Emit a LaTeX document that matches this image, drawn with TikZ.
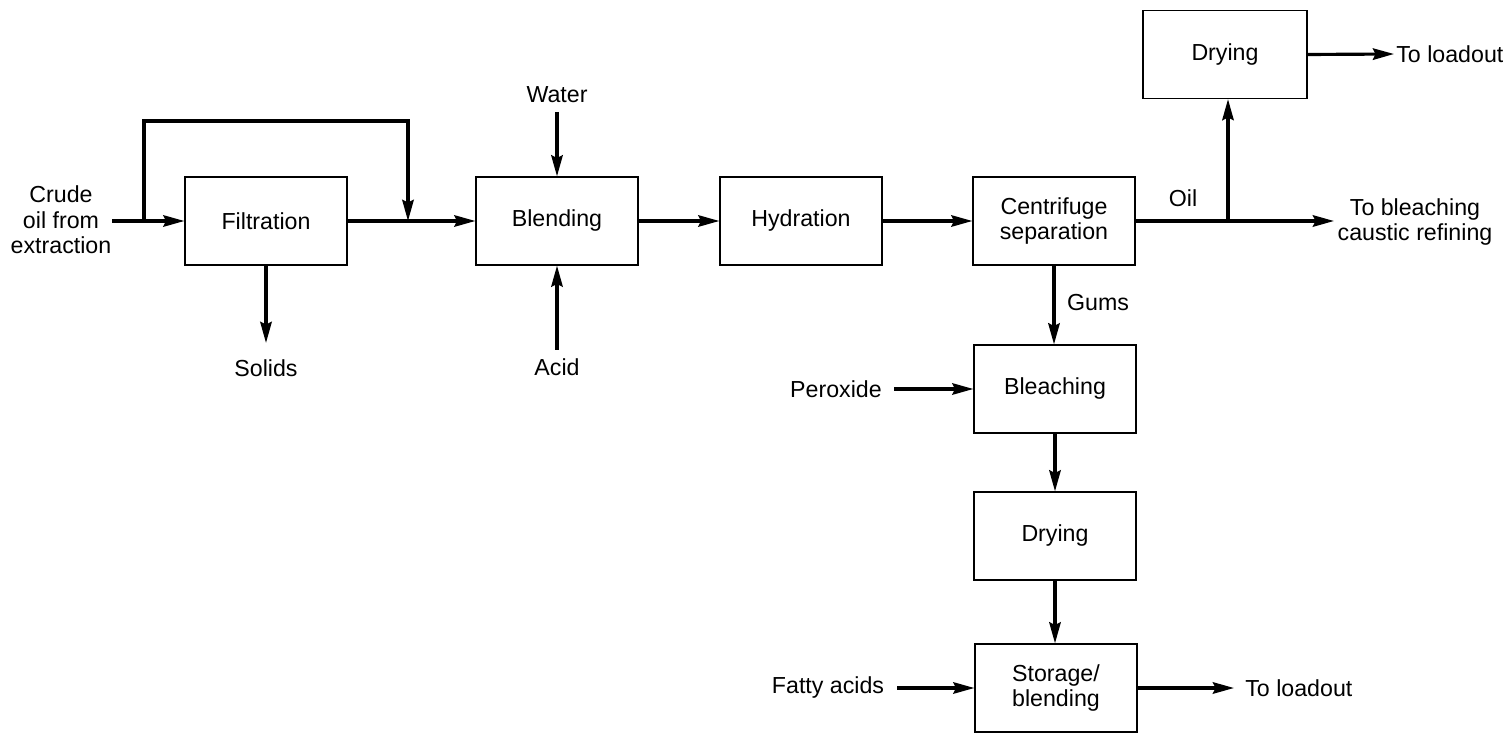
\documentclass[tikz,border=0pt]{standalone}
\usepackage{fontspec}
\setmainfont{Liberation Sans}
\usetikzlibrary{arrows.meta}
\begin{document}
\begin{tikzpicture}[x=0.02cm,y=-0.02cm,
  every node/.style={font=\fontsize{13.2}{14.5}\selectfont, inner sep=0pt},
  procbox/.style={draw, line width=0.7pt, minimum width=3.24cm, minimum height=1.76cm, align=center},
  lbl/.style={align=center},
  flow/.style={line width=1.8pt, -{Stealth[length=12pt,width=6.5pt,inset=1.5pt]}}]
\useasboundingbox (0,0) rectangle (1509,733);
% process boxes
\node[procbox] (filt)   at (266,221)  {Filtration};
\node[procbox] (blend)  at (557,221)  {Blending};
\node[procbox] (hyd)    at (801,221)  {Hydration};
\node[procbox] (cent)   at (1054,221) {Centrifuge\\separation};
\node[procbox, minimum width=3.28cm] (dryA) at (1225,54.5) {Drying};
\node[procbox] (bleach) at (1055,389) {Bleaching};
\node[procbox] (dryB)   at (1055,536) {Drying};
\node[procbox] (stor)   at (1056,688) {Storage/\\blending};
% text labels
\node[lbl] (crude) at (61,220) {Crude\\oil from\\extraction};
\node[lbl] (solids) at (266,368) {Solids};
\node[lbl] (water) at (557,95) {Water};
\node[lbl] (acid) at (557,367) {Acid};
\node[lbl] (oil) at (1183,198) {Oil};
\node[lbl] (tobl) at (1415,222) {To bleaching\\caustic refining};
\node[lbl, anchor=west] (loadA) at (1396,54) {To loadout};
\node[lbl] (gums) at (1098,303) {Gums};
\node[lbl] (perox) at (836,389) {Peroxide};
\node[lbl] (fatty) at (828,688) {Fatty acids};
\node[lbl, anchor=west] (loadB) at (1245,688) {To loadout};
% connector end points
\coordinate (cin) at (112,221);
\coordinate (b1) at (144,221);
\coordinate (b2) at (408,221);
\coordinate (solend) at (266,343);
\coordinate (wstart) at (557,112);
\coordinate (astart) at (557,350);
\coordinate (j) at (1228,221);
\coordinate (blend2) at (1334,221);
\coordinate (loadAend) at (1394,54);
\coordinate (pstart) at (894,389);
\coordinate (fstart) at (897,688);
\coordinate (loadBend) at (1234,688);
% connectors
\draw[flow] (cin) -- (filt.west);
\draw[flow] (b1) -- ++(0,-100) -| (b2);
\draw[flow] (filt.east) -- (blend.west);
\draw[flow] (filt.south) -- (solend);
\draw[flow] (wstart) -- (blend.north);
\draw[flow] (astart) -- (blend.south);
\draw[flow] (blend.east) -- (hyd.west);
\draw[flow] (hyd.east) -- (cent.west);
\draw[flow] (cent.east) -- (blend2);
\draw[flow] (j) -- (j |- dryA.south);
\draw[flow] (dryA.east) -- (loadAend);
\draw[flow] (cent.south) -- (cent.south |- bleach.north);
\draw[flow] (pstart) -- (bleach.west);
\draw[flow] (bleach.south) -- (bleach.south |- dryB.north);
\draw[flow] (dryB.south) -- (dryB.south |- stor.north);
\draw[flow] (fstart) -- (stor.west);
\draw[flow] (stor.east) -- (loadBend);
\end{tikzpicture}
\end{document}
